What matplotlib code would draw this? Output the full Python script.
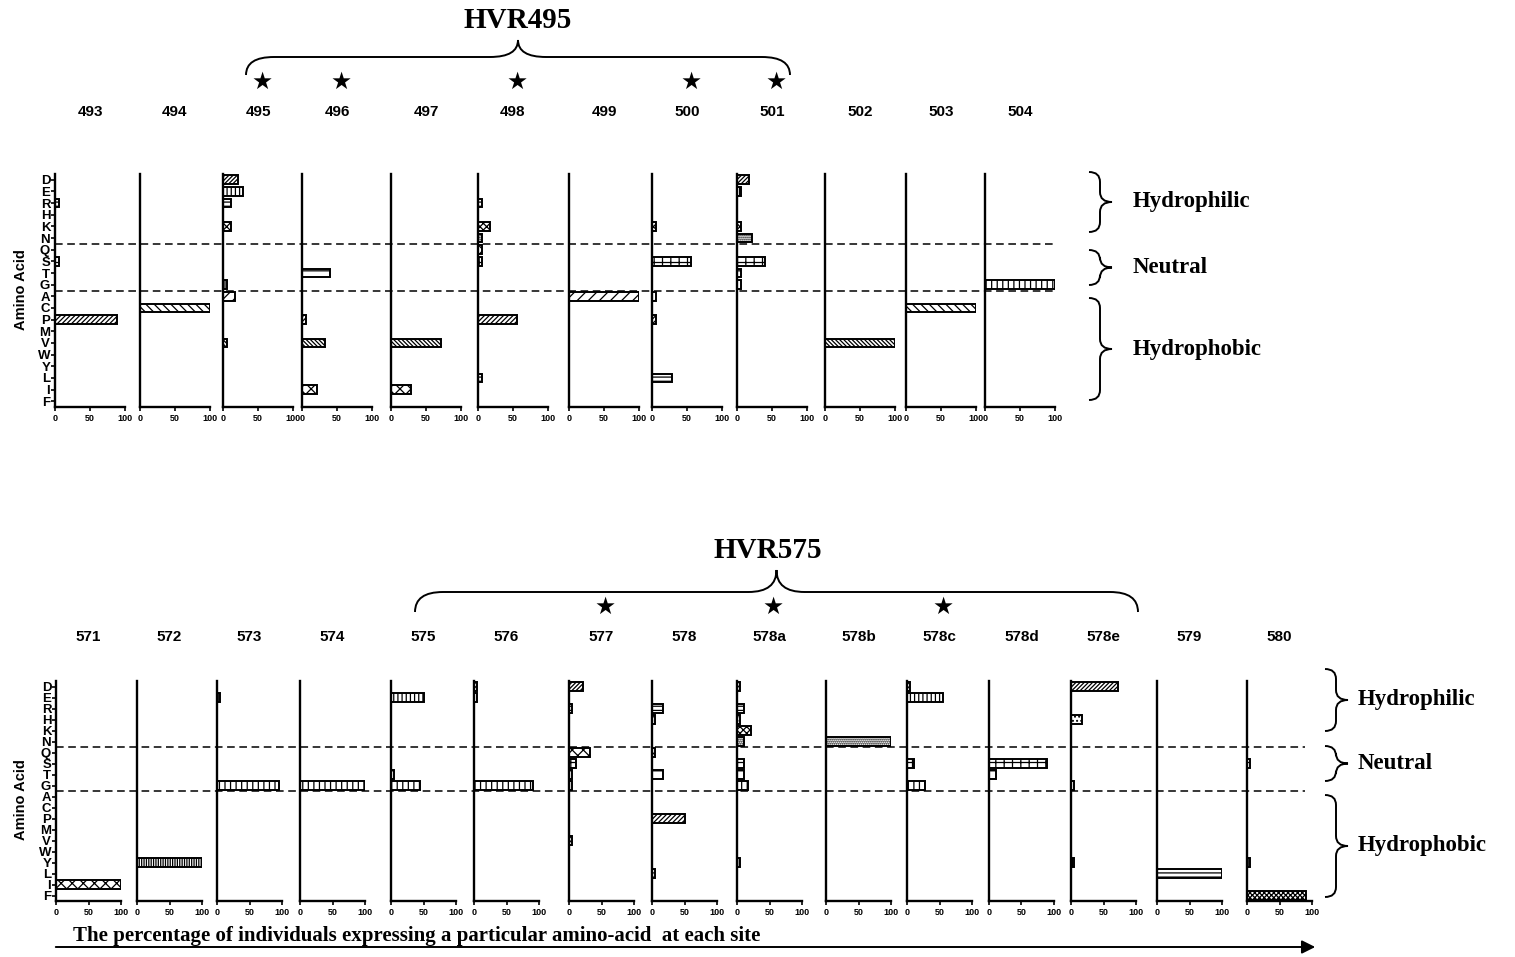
import matplotlib
matplotlib.use('Agg')
import matplotlib.pyplot as plt
from matplotlib.path import Path
from matplotlib.patches import PathPatch

amino_acids = ['D', 'E', 'R', 'H', 'K', 'N', 'Q', 'S', 'T', 'G',
               'A', 'C', 'P', 'M', 'V', 'W', 'Y', 'L', 'I', 'F']

top_sites = ['493', '494', '495', '496', '497', '498', '499', '500', '501', '502', '503', '504']
top_freqs = [
    {'R': 5, 'S': 5, 'P': 88},
    {'C': 100},
    {'D': 22, 'E': 28, 'R': 11, 'K': 11, 'G': 5, 'A': 17, 'V': 5},
    {'T': 40, 'P': 5, 'V': 33, 'I': 22},
    {'V': 72, 'I': 28},
    {'R': 5, 'K': 17, 'N': 5, 'Q': 5, 'S': 5, 'P': 56, 'L': 5},
    {'A': 100},
    {'K': 5, 'S': 56, 'A': 5, 'P': 5, 'L': 28},
    {'D': 17, 'E': 5, 'K': 5, 'N': 22, 'S': 40, 'T': 5, 'G': 5},
    {'V': 100},
    {'C': 100},
    {'G': 100},
]
top_starred = ['495', '496', '498', '500', '501']

bottom_sites = ['571', '572', '573', '574', '575', '576', '577', '578', '578a',
                '578b', '578c', '578d', '578e', '579', '580']
bottom_freqs = [
    {'I': 100},
    {'Y': 100},
    {'E': 5, 'G': 95},
    {'G': 100},
    {'E': 50, 'T': 5, 'G': 45},
    {'D': 5, 'E': 5, 'G': 90},
    {'D': 22, 'R': 5, 'Q': 33, 'S': 11, 'T': 5, 'G': 5, 'V': 5},
    {'R': 17, 'H': 5, 'Q': 5, 'T': 17, 'P': 50, 'L': 5},
    {'D': 5, 'R': 11, 'H': 5, 'K': 22, 'N': 11, 'S': 11, 'T': 11, 'G': 17, 'Y': 5},
    {'N': 100},
    {'D': 5, 'E': 56, 'S': 11, 'G': 28},
    {'S': 90, 'T': 11},
    {'D': 72, 'H': 17, 'G': 5, 'Y': 5},
    {'L': 100},
    {'S': 5, 'Y': 5, 'F': 90},
]
bottom_starred = ['577', '578a', '578c']

# hatch style per amino acid
hatches = {'D': '////////', 'E': '||||', 'R': '----', 'H': '....', 'K': 'xxxxx',
           'N': '........', 'Q': 'xxx', 'S': '++', 'T': '--', 'G': '|||',
           'A': '///', 'C': '\\\\\\\\', 'P': '///////', 'M': '', 'V': '\\\\\\\\\\\\\\\\',
           'W': '', 'Y': '|||||||', 'L': '----', 'I': 'xxx', 'F': 'xxxxxxx'}

W, H = 1515, 957
plt.rcParams['hatch.linewidth'] = 0.9
sans = 'Liberation Sans'
serif = 'Liberation Serif'

fig = plt.figure(figsize=(W / 100, H / 100), dpi=100)


def px_axes(x0, y0, w, h):
    return fig.add_axes([x0 / W, 1 - (y0 + h) / H, w / W, h / H])


def draw_row(sites, freqs, xs, width, y0, y1):
    axes = []
    for i, (site, fr) in enumerate(zip(sites, freqs)):
        ax = px_axes(xs[i], y0, width, y1 - y0)
        ax.patch.set_visible(False)
        ys = [amino_acids.index(a) for a in fr]
        vals = list(fr.values())
        bars = ax.barh(ys, vals, height=0.75, color='white', edgecolor='black', linewidth=1.4)
        for b, a in zip(bars, fr):
            b.set_hatch(hatches[a])
        ax.set_xlim(0, 100)
        ax.set_ylim(19.5, -0.5)
        ax.spines['top'].set_visible(False)
        ax.spines['right'].set_visible(False)
        ax.spines['left'].set_linewidth(1.7)
        ax.spines['bottom'].set_linewidth(1.7)
        ax.set_xticks([0, 50, 100])
        ax.set_xticklabels(['0', '50', '100'], fontsize=6.5, fontweight='bold', family=sans)
        ax.tick_params(axis='x', length=3, width=1.2, pad=2)
        if i == 0:
            ax.set_yticks(range(20))
            ax.set_yticklabels(amino_acids, fontsize=9.5, fontweight='bold', family=sans)
            ax.tick_params(axis='y', length=3, width=1.2, pad=0.5)
        else:
            ax.set_yticks([])
        axes.append(ax)
    return axes


top_x = [55, 140, 223, 302, 391, 478, 569, 652, 737, 825, 906, 985]
bot_x = [56, 137, 217, 300, 391, 474, 569, 652, 737, 826, 907, 989, 1071, 1157, 1247]
top_axes = draw_row(top_sites, top_freqs, top_x, 70, 174, 407)
bot_axes = draw_row(bottom_sites, bottom_freqs, bot_x, 65, 681, 901)

ov = fig.add_axes([0, 0, 1, 1])
ov.set_xlim(0, W)
ov.set_ylim(H, 0)
ov.axis('off')


def to_px(ax, x, y):
    d = ax.transData.transform((x, y))
    return d[0], H - d[1]


def hbrace(x0, x1, yb, ym, yt, r=25):
    xm = (x0 + x1) / 2
    verts = [(x0, yb), (x0, ym), (x0 + r, ym), (xm - r, ym), (xm, ym), (xm, yt),
             (xm, ym), (xm + r, ym), (x1 - r, ym), (x1, ym), (x1, yb)]
    codes = [Path.MOVETO, Path.CURVE3, Path.CURVE3, Path.LINETO, Path.CURVE3, Path.CURVE3,
             Path.CURVE3, Path.CURVE3, Path.LINETO, Path.CURVE3, Path.CURVE3]
    ov.add_patch(PathPatch(Path(verts, codes), fill=False, lw=1.4, color='black'))


def vbrace(y0, y1, xb, xm, xt, r=10):
    ymid = (y0 + y1) / 2
    verts = [(xb, y0), (xm, y0), (xm, y0 + r), (xm, ymid - r), (xm, ymid), (xt, ymid),
             (xm, ymid), (xm, ymid + r), (xm, y1 - r), (xm, y1), (xb, y1)]
    codes = [Path.MOVETO, Path.CURVE3, Path.CURVE3, Path.LINETO, Path.CURVE3, Path.CURVE3,
             Path.CURVE3, Path.CURVE3, Path.LINETO, Path.CURVE3, Path.CURVE3]
    ov.add_patch(PathPatch(Path(verts, codes), fill=False, lw=1.4, color='black'))


def decorate(axes, sites, starred, label_y, star_y, x_end, groups, bx, label_x, amino_y):
    for ax, s in zip(axes, sites):
        cx, _ = to_px(ax, 50, 0)
        ov.text(cx, label_y, s, ha='center', va='center', fontsize=11,
                fontweight='bold', family=sans)
        if s in starred:
            ov.text(cx + 4, star_y, '\u2605', ha='center', va='center', fontsize=17,
                    family='DejaVu Sans')
    x_start, _ = to_px(axes[0], 0, 0)
    for yv in (5.5, 9.5):
        _, yp = to_px(axes[0], 0, yv)
        ov.plot([x_start, x_end], [yp, yp], color='black', lw=1.1, ls=(0, (5, 3)))
    for (y0, y1, name) in groups:
        vbrace(y0, y1, bx, bx + 11, bx + 23)
        ov.text(label_x, (y0 + y1) / 2, name, ha='left', va='center', fontsize=16.5,
                fontweight='bold', family=serif)
    ov.text(21, amino_y, 'Amino Acid', rotation=90, ha='center', va='center',
            fontsize=10.5, fontweight='bold', family=sans)


decorate(top_axes, top_sites, top_starred, 112, 82, 1055,
         [(172, 232, 'Hydrophilic'), (250, 285, 'Neutral'), (298, 400, 'Hydrophobic')],
         1089, 1133, 290)
decorate(bot_axes, bottom_sites, bottom_starred, 637, 607, 1305,
         [(669, 731, 'Hydrophilic'), (746, 781, 'Neutral'), (795, 897, 'Hydrophobic')],
         1325, 1358, 800)

hbrace(246, 790, 75, 57, 40, r=28)
ov.text(518, 20, 'HVR495', ha='center', va='center', fontsize=21, fontweight='bold', family=serif)
hbrace(415, 1138, 612, 592, 570, r=28)
ov.text(768, 551, 'HVR575', ha='center', va='center', fontsize=21, fontweight='bold', family=serif)

ov.text(73, 936, 'The percentage of individuals expressing a particular amino-acid  at each site',
        ha='left', va='center', fontsize=15, fontweight='bold', family=serif)
ov.annotate('', xy=(1318, 947), xytext=(53, 947),
            arrowprops=dict(arrowstyle='-|>', color='black', lw=1.4, mutation_scale=20))

fig.savefig('out.png', dpi=100)
